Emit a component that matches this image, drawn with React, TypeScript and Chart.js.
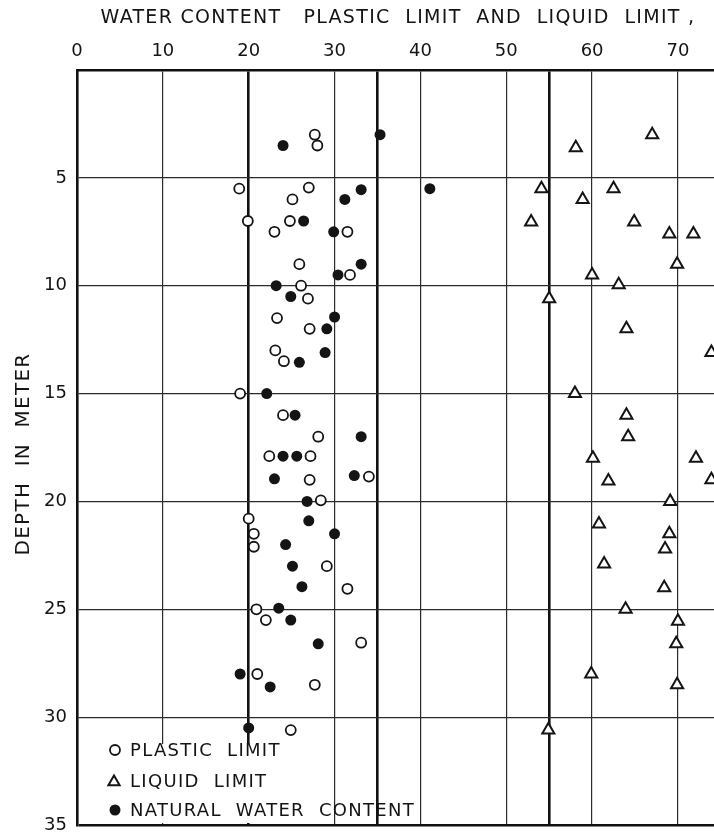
import React, { useEffect, useRef } from "react";
import { Chart, registerables } from "chart.js";

Chart.register(...registerables);

// Plastic limit (%) against depth (m)
const PLASTIC_DEPTH = [3.0, 3.5, 5.5, 5.45, 6.0, 7.0, 7.0, 7.5, 7.5, 9.0, 9.5, 10.0, 10.6, 11.5, 12.0, 13.0, 13.5, 15.0, 16.0, 17.0, 17.9, 17.9, 19.0, 18.85, 19.95, 20.8, 21.5, 22.1, 23.0, 24.05, 25.0, 25.5, 26.55, 28.0, 28.5, 30.6];
const PLASTIC_LIMIT = [27.7, 28.0, 18.9, 27.0, 25.1, 19.9, 24.8, 23.0, 31.5, 25.9, 31.8, 26.1, 26.9, 23.3, 27.1, 23.1, 24.1, 19.0, 24.0, 28.1, 22.4, 27.2, 27.1, 34.0, 28.4, 20.0, 20.6, 20.6, 29.1, 31.5, 20.9, 22.0, 33.1, 21.0, 27.7, 24.9];

// Liquid limit (%) against depth (m)
const LIQUID_DEPTH = [3.0, 3.6, 5.5, 5.5, 6.0, 7.05, 7.05, 7.6, 7.6, 9.0, 9.5, 9.95, 10.6, 12.0, 13.1, 15.0, 16.0, 17.0, 18.0, 18.0, 19.0, 19.05, 20.0, 21.05, 21.5, 22.2, 22.9, 24.0, 25.0, 25.55, 26.6, 28.0, 28.5, 30.6];
const LIQUID_LIMIT = [67.0, 58.1, 54.1, 62.5, 58.9, 52.9, 64.9, 69.0, 71.8, 69.9, 60.0, 63.1, 55.0, 64.0, 73.9, 58.0, 64.0, 64.2, 60.1, 72.1, 73.9, 61.9, 69.1, 60.8, 69.0, 68.5, 61.4, 68.4, 63.9, 70.0, 69.8, 59.9, 69.9, 54.9];

// Natural water content (%) against depth (m)
const NATURAL_DEPTH = [3.5, 3.0, 5.5, 5.55, 6.0, 7.0, 7.5, 9.0, 9.5, 10.0, 10.5, 11.45, 12.0, 13.1, 13.55, 15.0, 16.0, 17.0, 17.9, 17.9, 18.95, 18.8, 20.0, 20.9, 21.5, 22.0, 23.0, 23.95, 24.95, 25.5, 26.6, 28.0, 28.6, 30.5];
const NATURAL_WATER = [24.0, 35.3, 41.1, 33.1, 31.2, 26.4, 29.9, 33.1, 30.4, 23.2, 24.9, 30.0, 29.1, 28.9, 25.9, 22.1, 25.4, 33.1, 24.0, 25.6, 23.0, 32.3, 26.8, 27.0, 30.0, 24.3, 25.1, 26.2, 23.5, 24.9, 28.1, 19.0, 22.5, 20.0];

// Vertical rulings of the sheet; the heavy ones mark 20, 35 and 55 %
const X_RULINGS = [0, 10, 20, 30, 35, 40, 50, 55, 60, 70];
const X_HEAVY = [20, 35, 55];
const X_MAX = 74.2;
const DEPTH_MAX = 35;
const DEPTH_STEP = 5;

const TITLE_X = "WATER CONTENT   PLASTIC  LIMIT  AND  LIQUID  LIMIT ,";
const TITLE_Y = "DEPTH  IN  METER";
const LEGEND = ["PLASTIC  LIMIT", "LIQUID  LIMIT", "NATURAL  WATER  CONTENT"];

const INK = "#141414";
const FONT = '"DejaVu Sans", sans-serif';

const toPoints = (depth: number[], value: number[]) =>
  depth.map((d, i) => ({ x: value[i], y: d }));

const sheetText = {
  id: "sheetText",
  afterDatasetsDraw(chart: any) {
    const { ctx, chartArea, scales } = chart;
    const { left, bottom } = chartArea;
    ctx.save();

    // clear the panel that holds the key
    const panelTop = scales.y.getPixelForValue(31.25);
    const panelRight = scales.x.getPixelForValue(28.6);
    ctx.fillStyle = "#ffffff";
    ctx.fillRect(left + 2, panelTop, panelRight - left - 2, bottom - 2 - panelTop);

    // key
    const rows = [bottom - 75, bottom - 44, bottom - 15];
    const symX = left + 38;
    ctx.strokeStyle = INK;
    ctx.fillStyle = INK;
    ctx.lineWidth = 1.8;
    ctx.beginPath();
    ctx.arc(symX, rows[0], 5, 0, Math.PI * 2);
    ctx.stroke();
    const r = 6.5;
    ctx.lineWidth = 2;
    ctx.beginPath();
    for (let k = 0; k < 3; k++) {
      const a = (k * 2 * Math.PI) / 3;
      const px = symX - 1 + Math.sin(a) * r;
      const py = rows[1] + 1 - Math.cos(a) * r;
      if (k === 0) ctx.moveTo(px, py);
      else ctx.lineTo(px, py);
    }
    ctx.closePath();
    ctx.stroke();
    ctx.beginPath();
    ctx.arc(symX, rows[2], 5.5, 0, Math.PI * 2);
    ctx.fill();

    ctx.font = `18px ${FONT}`;
    (ctx as any).letterSpacing = "1.3px";
    ctx.textAlign = "left";
    ctx.textBaseline = "middle";
    LEGEND.forEach((t, i) => ctx.fillText(t, left + 53, rows[i] + 1));

    // axis titles
    ctx.font = `19px ${FONT}`;
    ctx.textAlign = "center";
    ctx.fillText(TITLE_X, 398, 18);

    ctx.font = `20px ${FONT}`;
    ctx.translate(24, 454);
    ctx.rotate(-Math.PI / 2);
    ctx.fillText(TITLE_Y, 0, 0);
    ctx.restore();
  },
};

export default function App() {
  const canvasRef = useRef<HTMLCanvasElement | null>(null);

  useEffect(() => {
    if (!canvasRef.current) return;
    const chart = new Chart(canvasRef.current, {
      type: "scatter",
      data: {
        datasets: [
          {
            label: "PLASTIC LIMIT",
            data: toPoints(PLASTIC_DEPTH, PLASTIC_LIMIT),
            pointStyle: "circle",
            pointRadius: 5,
            pointBorderWidth: 1.8,
            pointBackgroundColor: "#ffffff",
            pointBorderColor: INK,
            clip: false,
          },
          {
            label: "LIQUID LIMIT",
            data: toPoints(LIQUID_DEPTH, LIQUID_LIMIT),
            pointStyle: "triangle",
            pointRadius: 7,
            pointBorderWidth: 2,
            pointBackgroundColor: "#ffffff",
            pointBorderColor: INK,
            clip: false,
          },
          {
            label: "NATURAL WATER CONTENT",
            data: toPoints(NATURAL_DEPTH, NATURAL_WATER),
            pointStyle: "circle",
            pointRadius: 5.5,
            pointBorderWidth: 0,
            pointBackgroundColor: INK,
            pointBorderColor: INK,
            clip: false,
          },
        ],
      },
      options: {
        animation: false,
        responsive: false,
        maintainAspectRatio: false,
        layout: { autoPadding: false, padding: { top: 0, left: 0, right: 0, bottom: 11 } },
        plugins: {
          legend: { display: false },
          tooltip: { enabled: false },
          title: { display: false },
        },
        scales: {
          x: {
            type: "linear",
            position: "top",
            min: 0,
            max: X_MAX,
            afterBuildTicks: (scale: any) => {
              scale.ticks = X_RULINGS.map((v) => ({ value: v }));
            },
            afterFit: (scale: any) => {
              scale.height = 70;
              scale.paddingLeft = 0;
              scale.paddingRight = 0;
            },
            ticks: {
              autoSkip: false,
              maxRotation: 0,
              padding: 8,
              color: INK,
              font: { family: FONT, size: 18 },
              callback: (v: any) => (Number(v) % 10 === 0 ? String(v) : ""),
            },
            grid: {
              drawTicks: false,
              color: (c: any) => (c.tick && c.tick.value === 0 ? "rgba(0,0,0,0)" : X_HEAVY.includes(c.tick?.value) ? "#111" : "#2b2b2b"),
              lineWidth: (c: any) => (X_HEAVY.includes(c.tick?.value) ? 2.6 : 1.2),
            },
            border: { display: true, color: "#111", width: 2.6 },
          },
          y: {
            type: "linear",
            reverse: true,
            min: 0,
            max: DEPTH_MAX,
            afterFit: (scale: any) => {
              scale.width = 77;
              scale.paddingTop = 0;
              scale.paddingBottom = 0;
            },
            ticks: {
              stepSize: DEPTH_STEP,
              padding: 10,
              color: INK,
              font: { family: FONT, size: 18 },
              callback: (v: any) => (Number(v) === 0 ? "" : String(v)),
            },
            grid: {
              drawTicks: false,
              color: (c: any) => (c.tick && c.tick.value === 0 ? "rgba(0,0,0,0)" : c.tick?.value === DEPTH_MAX ? "#111" : "#2b2b2b"),
              lineWidth: (c: any) => (c.tick?.value === DEPTH_MAX ? 2.6 : 1.2),
            },
            border: { display: true, color: "#111", width: 2.6 },
          },
        },
      },
      plugins: [sheetText],
    } as any);
    return () => chart.destroy();
  }, []);

  return (
    <div style={{ position: "fixed", left: 0, top: 0, width: 714, height: 836, background: "#fff", overflow: "hidden" }}>
      <canvas ref={canvasRef} width={714} height={836} style={{ width: 714, height: 836, display: "block" }} />
    </div>
  );
}
